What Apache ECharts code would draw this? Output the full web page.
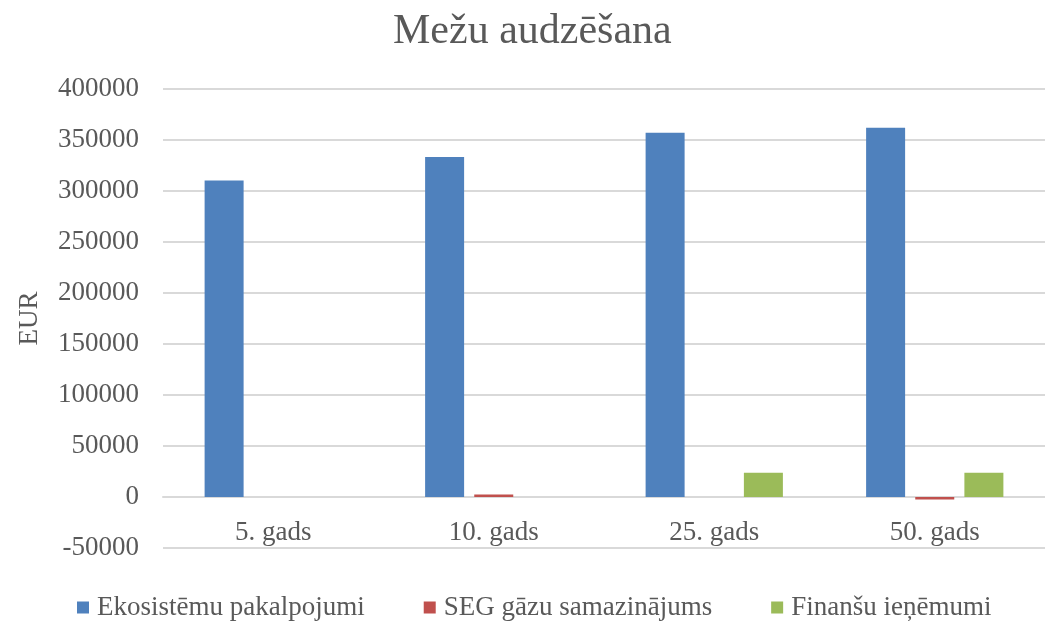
<!DOCTYPE html>
<html>
  <head>
    <meta charset="UTF-8">
    <script src="https://cdn.jsdelivr.net/npm/echarts@6/dist/echarts.min.js"></script>
    <title>Mežu audzēšana</title>
  </head>
  <body style="margin:0;">
    <div id="main" style="width: 1045px;height:624px;"></div>
    <script type="text/javascript">
      var categories = ['5. gads', '10. gads', '25. gads', '50. gads'];
      var ekosistemas = [310200, 333400, 357000, 362100];
      var segGazes = [0, 2400, 0, -2500];
      var finanses = [0, 0, 23700, 23700];

      var font = 'Liberation Serif';
      var textColor = '#595959';

      var myChart = echarts.init(document.getElementById('main'));

      var option = {
        animation: false,
        color: ['#4F81BD', '#C0504D', '#9BBB59'],
        title: {
          text: 'Mežu audzēšana',
          left: 388,
          top: 6,
          textStyle: { fontFamily: font, fontSize: 42, fontWeight: 'normal', color: textColor }
        },
        legend: {
          bottom: -2,
          left: 72,
          itemWidth: 12,
          itemHeight: 12,
          itemGap: 59,
          icon: 'rect',
          textStyle: { fontFamily: font, fontSize: 27, color: textColor, padding: [0, 0, 0, 3] }
        },
        grid: { left: 163, top: 89, width: 898, height: 459 },
        xAxis: {
          type: 'category',
          data: categories,
          axisTick: { show: false },
          axisLine: { lineStyle: { color: '#D9D9D9', width: 2 } },
          // labels sit just under the zero line, as in the original
          axisLabel: { fontFamily: font, fontSize: 27, color: textColor, margin: -29 }
        },
        yAxis: {
          type: 'value',
          min: -50000,
          max: 400000,
          interval: 50000,
          name: 'EUR',
          nameLocation: 'middle',
          nameGap: 120,
          nameTextStyle: { fontFamily: font, fontSize: 27, color: textColor },
          axisLabel: {
            fontFamily: font, fontSize: 27, color: textColor, margin: 24,
            formatter: function (v) { return String(v); }
          },
          splitLine: { lineStyle: { color: '#D9D9D9', width: 2 } }
        },
        series: [
          { name: 'Ekosistēmu pakalpojumi', type: 'bar', data: ekosistemas, barWidth: 39, barGap: '26%' },
          { name: 'SEG gāzu samazinājums', type: 'bar', data: segGazes, barWidth: 39, barGap: '26%' },
          { name: 'Finanšu ieņēmumi', type: 'bar', data: finanses, barWidth: 39, barGap: '26%' }
        ]
      };

      myChart.setOption(option);
    </script>
  </body>
</html>
